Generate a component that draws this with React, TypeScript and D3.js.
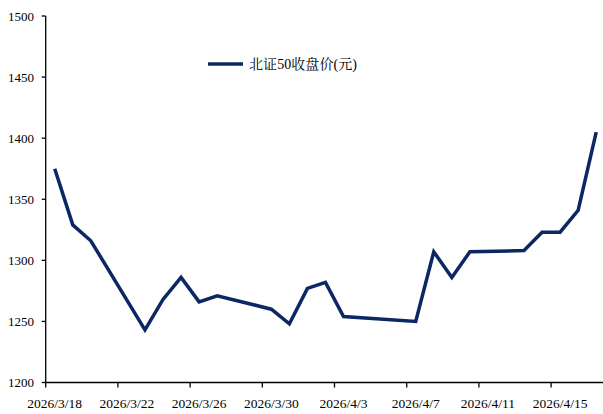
import React from "react";
import * as d3 from "d3";

const dates: string[] = [
  "2026-03-18", "2026-03-19", "2026-03-20", "2026-03-23", "2026-03-24", "2026-03-25",
  "2026-03-26", "2026-03-27", "2026-03-30", "2026-03-31", "2026-04-01", "2026-04-02",
  "2026-04-03", "2026-04-07", "2026-04-08", "2026-04-09", "2026-04-10", "2026-04-13",
  "2026-04-14", "2026-04-15", "2026-04-16", "2026-04-17",
];
const closes: number[] = [
  1375, 1329, 1316, 1243, 1268, 1286, 1266, 1271, 1260, 1248, 1277, 1282,
  1254, 1250, 1307, 1286, 1307, 1308, 1323, 1323, 1341, 1405,
];
const yTicks: number[] = [1200, 1250, 1300, 1350, 1400, 1450, 1500];
const xTickDates: string[] = [
  "2026-03-18", "2026-03-22", "2026-03-26", "2026-03-30",
  "2026-04-03", "2026-04-07", "2026-04-11", "2026-04-15",
];
const seriesName = "北证50收盘价(元)";

const parse = (s: string) => {
  const [y, m, d] = s.split("-").map(Number);
  return new Date(y, m - 1, d);
};
const mid = (s: string) => d3.timeHour.offset(parse(s), 12);
const fmt = (s: string) => {
  const [y, m, d] = s.split("-").map(Number);
  return `${y}/${m}/${d}`;
};

const W = 603;
const H = 414;
const left = 45.7;
const dayW = 18.05;
const top = 16;
const bottom = 382.5;

export default function App() {
  const start = parse("2026-03-18");
  const end = d3.timeDay.offset(start, 31);
  const x = d3.scaleTime().domain([start, end]).range([left, left + 31 * dayW]);
  const y = d3.scaleLinear().domain([1200, 1500]).range([bottom, top]);
  const data = dates.map((d, i) => ({ d: mid(d), v: closes[i] }));
  const line = d3
    .line<{ d: Date; v: number }>()
    .x((p) => x(p.d))
    .y((p) => y(p.v));
  const color = "#0b2864";
  const font = "'Times New Roman', 'Liberation Serif', 'DejaVu Serif', serif";
  return (
    <svg
      width={W}
      height={H}
      style={{ position: "absolute", left: 0, top: 0, display: "block", background: "#fff" }}
    >
      {/* y axis */}
      <line x1={left} x2={left} y1={top} y2={bottom} stroke="#000" strokeWidth={1.3} />
      {yTicks.map((t) => (
        <g key={t}>
          <line x1={left - 4} x2={left} y1={y(t)} y2={y(t)} stroke="#000" strokeWidth={1.3} />
          <text
            x={34}
            y={y(t)}
            dy="0.35em"
            textAnchor="end"
            style={{ fontFamily: font, fontSize: "13px" }}
            fill="#000"
          >
            {t}
          </text>
        </g>
      ))}
      {/* x axis */}
      <line x1={left} x2={W} y1={bottom} y2={bottom} stroke="#000" strokeWidth={1.3} />
      {xTickDates.map((t) => (
        <g key={t}>
          <line x1={x(parse(t))} x2={x(parse(t))} y1={bottom} y2={bottom + 5} stroke="#000" strokeWidth={1.3} />
          <text
            x={x(mid(t))}
            y={408}
            textAnchor="middle"
            style={{ fontFamily: font, fontSize: "13.5px" }}
            fill="#000"
          >
            {fmt(t)}
          </text>
        </g>
      ))}
      {/* series */}
      <path
        d={line(data) || ""}
        fill="none"
        stroke={color}
        strokeWidth={3.5}
        strokeLinejoin="miter"
      />
      {/* legend */}
      <line x1={208} x2={243} y1={64} y2={64} stroke={color} strokeWidth={3.5} />
      <text
        x={249}
        y={69}
        style={{
          fontFamily: "'Times New Roman', 'Liberation Serif', 'Noto Serif CJK SC', 'Noto Sans CJK SC', serif",
          fontSize: "14px",
        }}
        textLength={108}
        lengthAdjust="spacing"
        fill="#000"
      >
        {seriesName}
      </text>
    </svg>
  );
}
